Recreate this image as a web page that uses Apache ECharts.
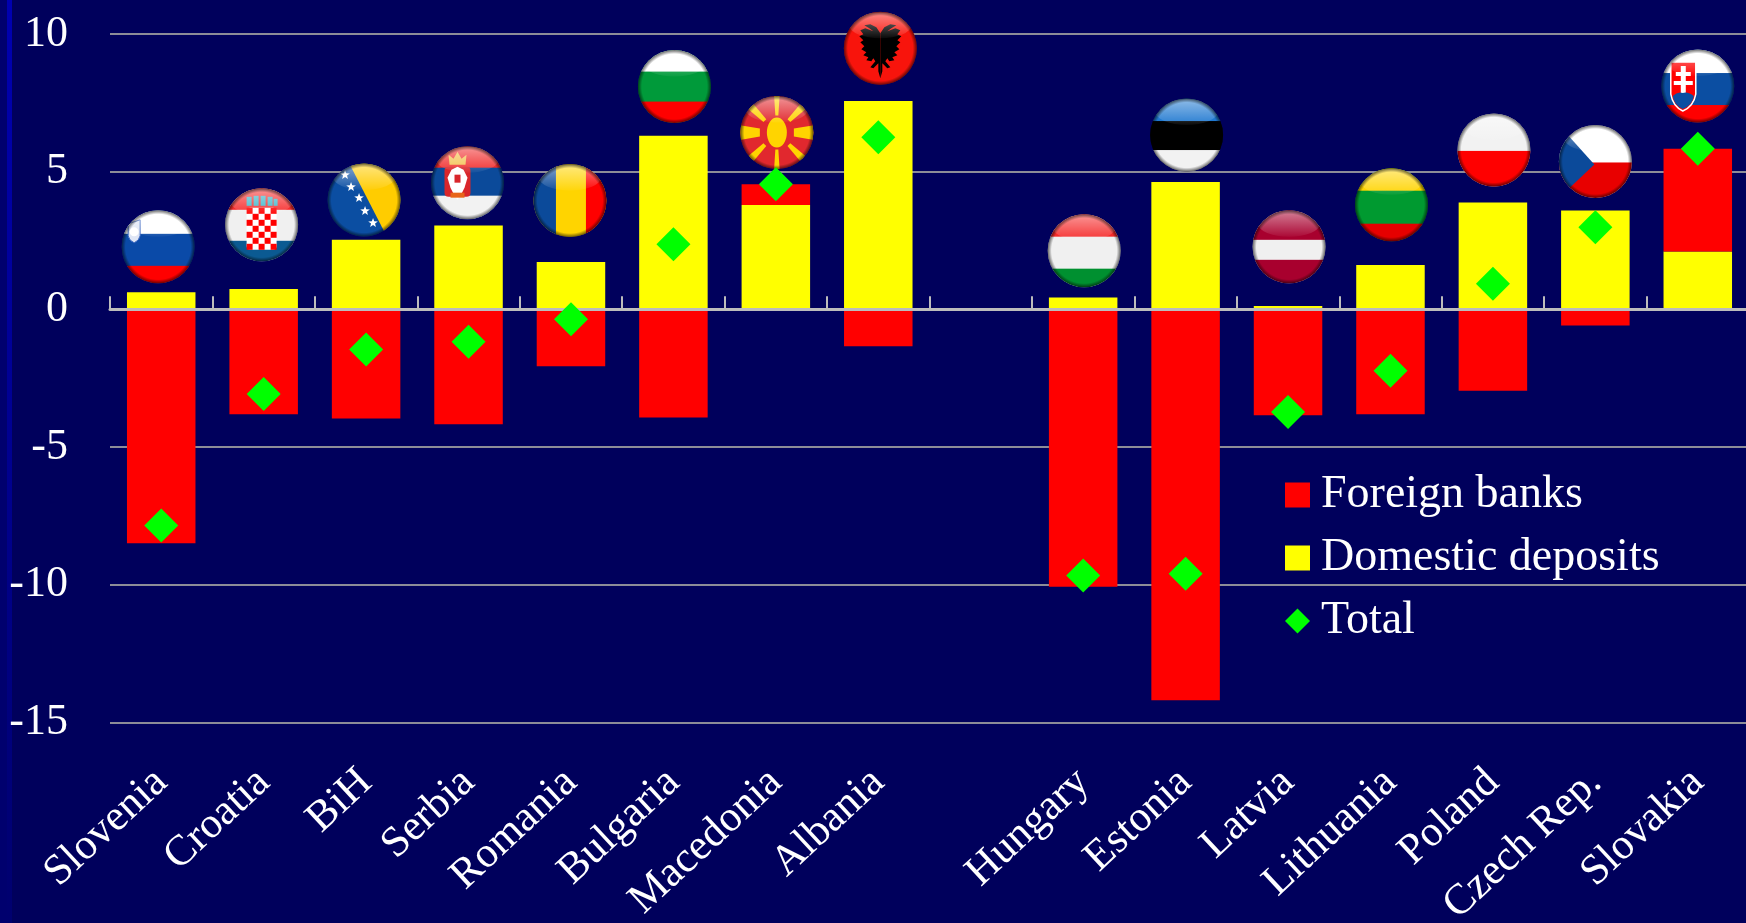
<!DOCTYPE html>
<html>
<head>
<meta charset="utf-8">
<style>html,body{margin:0;padding:0;background:#00005c;overflow:hidden;width:1746px;height:923px}#c{width:1752px;height:923px}</style>
<script src="https://cdn.jsdelivr.net/npm/echarts@6/dist/echarts.min.js"></script>
</head>
<body>
<div id="c"></div>
<script>
const categories = ['Slovenia','Croatia','BiH','Serbia','Romania','Bulgaria','Macedonia','Albania','','Hungary','Estonia','Latvia','Lithuania','Poland','Czech Rep.','Slovakia'];
const foreignBanks = [-8.5,-3.81,-3.97,-4.17,-2.07,-3.93,0.75,-1.34,null,-10.08,-14.2,-3.85,-3.81,-2.96,-0.59,3.73];
const domesticDeposits = [0.62,0.74,2.53,3.04,1.72,6.3,3.79,7.57,null,0.43,4.62,0.12,1.61,3.88,3.59,2.1];
const total = [-7.85,-3.08,-1.46,-1.18,-0.36,2.36,4.54,6.25,null,-9.67,-9.6,-3.73,-2.23,0.93,2.98,5.83];
const yTicks = {min:-15,max:10,interval:5};
const flagX = [0.47,1.48,2.48,3.49,4.49,5.51,6.51,7.52,9.51,10.51,11.51,12.51,13.51,14.5,15.5];
const flagY = [2.27,3.07,3.97,4.6,3.95,8.09,6.42,9.48,2.13,6.33,2.27,3.8,5.79,5.37,8.11];
const flagNames = ['Slovenia','Croatia','BiH','Serbia','Romania','Bulgaria','Macedonia','Albania','Hungary','Estonia','Latvia','Lithuania','Poland','Czech Rep.','Slovakia'];

function hs(c1,c2,c3,a,b){a=a||22;b=b||52;
  return `<rect width="74" height="74" fill="${c2}"/><rect width="74" height="${a}" fill="${c1}"/><rect y="${b}" width="74" height="${74-b}" fill="${c3}"/>`;}
function star(x,y,r){let p=[];for(let i=0;i<10;i++){const R=i%2?r*0.42:r,t=-Math.PI/2+i*Math.PI/5;p.push((x+R*Math.cos(t)).toFixed(1)+','+(y+R*Math.sin(t)).toFixed(1));}
  return `<polygon fill="#fff" points="${p.join(' ')}"/>`;}
function checks(){let s='<rect x="22" y="20" width="30" height="42" rx="4" fill="#fff"/>';
  for(let r=0;r<7;r++)for(let c=0;c<5;c++)if((r+c)%2===0)s+=`<rect x="${22+c*6}" y="${20+r*6}" width="6" height="6" fill="#f00"/>`;
  return s;}
const eagleHalf='M37 22 L33 16 L27 13 L21 14 L26 17 L30 20 L22 17 L17 19 L20 23 L16 25 L20 29 L17 31 L21 35 L18 38 L23 41 L20 44 L25 46 L23 49 L28 50 L30 47 L32 50 L27 56 L30 57 L35 52 L35 60 L37 67 Z';
function rays(){let s='';const hw=[3,4,8,4,3,4,8,4];for(let i=0;i<8;i++){const w=hw[i];s+=`<polygon fill="#ffd400" transform="rotate(${i*45} 37 37)" points="${37-w*0.5},20 ${37+w*0.5},20 ${37+w},-4 ${37-w},-4"/>`;}return s;}
const flagArt = {
  'Slovenia': hs('#fff','#0a4aa8','#f00',24,56)+'<path d="M7 14 L19 10 L19 26 Q18 31 13 33 Q8 31 7 26Z" fill="#dfe6f5" stroke="#3a66c0"/><circle cx="13" cy="22" r="4.5" fill="#fff"/>',
  'Croatia': hs('#f52a2a','#f0f0f0','#0b5a92',22,53)+checks()+'<g fill="#39b5c9"><rect x="22" y="9" width="5" height="9"/><rect x="29" y="8" width="5" height="10"/><rect x="36" y="8" width="5" height="10"/><rect x="43" y="9" width="5" height="9"/><rect x="49" y="11" width="4" height="7"/></g>',
  'BiH': '<rect width="74" height="74" fill="#0b4ea2"/><polygon fill="#ffcc00" points="22,0 74,0 74,74 60,74"/>'+star(18,12,5)+star(24,24,5)+star(32,35,5)+star(38,48,5)+star(46,60,5),
  'Serbia': hs('#f02b2b','#0b4a9a','#f2f2f2',22,50)+'<rect x="14" y="21" width="26" height="30" rx="4" fill="#d9262b"/><path d="M27 21 L21 24 L17 32 L20 42 L24 50 L27 54 L30 50 L34 42 L37 32 L33 24Z" fill="#fff"/><rect x="24" y="29" width="6" height="8" fill="#d9262b"/><rect x="20" y="47" width="14" height="5" fill="#e8651a"/><path d="M19 19 L18 9 L23 13 L27 6 L31 13 L36 9 L35 19Z" fill="#f2c14e"/>',
  'Romania': '<rect width="74" height="74" fill="#ffd400"/><rect width="23" height="74" fill="#0b4a9a"/><rect x="53" width="21" height="74" fill="#f00"/>',
  'Bulgaria': hs('#fff','#009a3a','#f00',22,52),
  'Macedonia': '<rect width="74" height="74" fill="#e1282e"/>'+rays()+'<ellipse cx="37" cy="37" rx="10" ry="15" fill="#ffd400"/>',
  'Albania': `<rect width="74" height="74" fill="#f8140c"/><path d="${eagleHalf}" fill="#000"/><path d="${eagleHalf}" fill="#000" transform="translate(74,0) scale(-1,1)"/>`,
  'Hungary': hs('#f52a2a','#f0f0f0','#009030',23,55),
  'Estonia': hs('#1f78d0','#000','#f2f2f2',23,52),
  'Latvia': hs('#a8002e','#f0f0f0','#a8002e',30,50),
  'Lithuania': hs('#ffd400','#009a30','#e60000',23,56),
  'Poland': '<rect width="74" height="74" fill="#f2f2f2"/><rect y="38" width="74" height="36" fill="#f00"/>',
  'Czech Rep.': '<rect width="74" height="74" fill="#fff"/><rect y="38" width="74" height="36" fill="#e80000"/><polygon fill="#0b4a9a" points="0,0 36,40 0,74 0,0"/>',
  'Slovakia': hs('#fff','#0b4ea2','#f00',24,56)+'<path d="M10 13 L35 13 L35 45 Q33 57 22 62 Q12 57 10 45Z" fill="#f00" stroke="#fff" stroke-width="1.5"/><path d="M20 17 H25 V23 H30 V27 H25 V32 H32 V36 H25 V44 H20 V36 H13 V32 H20 V27 H15 V23 H20Z" fill="#fff"/><path d="M12 47 Q17 42 22 44 Q27 42 33 47 Q32 56 22 60 Q13 56 12 47Z" fill="#0b4ea2"/>'
};
function flagUri(name){
  const svg=`<svg xmlns="http://www.w3.org/2000/svg" width="74" height="74" viewBox="0 0 74 74"><defs><clipPath id="k"><circle cx="37" cy="37" r="36.5"/></clipPath><linearGradient id="g" x1="0" y1="0" x2="0" y2="1"><stop offset="0" stop-color="#fff" stop-opacity=".5"/><stop offset="1" stop-color="#fff" stop-opacity=".04"/></linearGradient><radialGradient id="e" cx=".5" cy=".5" r=".5"><stop offset=".88" stop-color="#000" stop-opacity="0"/><stop offset="1" stop-color="#000" stop-opacity=".65"/></radialGradient></defs><g clip-path="url(#k)">${flagArt[name]}<ellipse cx="37" cy="14" rx="31" ry="13" fill="url(#g)"/><circle cx="37" cy="37" r="37" fill="url(#e)"/></g></svg>`;
  return 'image://data:image/svg+xml;charset=utf-8,'+encodeURIComponent(svg);
}
const serif='"Liberation Serif", serif';
const chart=echarts.init(document.getElementById('c'));
chart.setOption({
  animation:false,
  backgroundColor:'#00005c',
  graphic:[
    {type:'rect',silent:true,z:-1,shape:{x:0,y:0,width:7,height:923},style:{fill:'#00006e'}},
    {type:'rect',silent:true,z:-1,shape:{x:7,y:0,width:5,height:923},style:{fill:new echarts.graphic.LinearGradient(0,0,0,1,[{offset:0,color:'#0000b0'},{offset:1,color:'#00006e'}])}}
  ],
  grid:{left:110,top:34,width:1639,height:688.3,outerBoundsMode:'none'},
  legend:{
    data:[{name:'Foreign banks',icon:'rect'},{name:'Domestic deposits',icon:'rect'},{name:'Total',icon:'diamond'}],
    orient:'vertical',left:1285,top:472,itemWidth:25,itemHeight:25,itemGap:17,padding:0,
    textStyle:{color:'#fff',fontFamily:serif,fontSize:46,padding:[0,0,0,6]},selectedMode:false
  },
  xAxis:[
    {type:'category',data:categories,position:'bottom',z:6,
      axisLine:{onZero:true,lineStyle:{color:'#bcbcbc',width:3}},
      axisTick:{show:true,inside:true,length:13,alignWithLabel:false,interval:0,lineStyle:{color:'#bcbcbc',width:2}},
      axisLabel:{show:false},splitLine:{show:false}},
    {type:'category',data:categories,position:'bottom',offset:0,
      axisLine:{show:false,onZero:false},axisTick:{show:false},splitLine:{show:false},
      axisLabel:{show:true,interval:0,rotate:43,margin:54,color:'#fff',fontFamily:serif,fontSize:43}},
    {type:'value',min:0,max:16,show:false,axisLine:{onZero:false},splitLine:{show:false}}
  ],
  yAxis:{type:'value',min:yTicks.min,max:yTicks.max,interval:yTicks.interval,
    axisLine:{show:false},axisTick:{show:false},
    axisLabel:{color:'#fff',fontFamily:serif,fontSize:44,margin:42},
    splitLine:{show:true,lineStyle:{color:'#8c8c98',width:2}}},
  series:[
    {name:'Domestic deposits',type:'bar',stack:'s',xAxisIndex:0,barWidth:68.5,data:domesticDeposits,itemStyle:{color:'#ffff00'},z:2},
    {name:'Foreign banks',type:'bar',stack:'s',xAxisIndex:0,barWidth:68.5,data:foreignBanks,itemStyle:{color:'#ff0000'},z:2},
    {name:'Flags',type:'scatter',xAxisIndex:2,symbolSize:74,z:3,silent:true,itemStyle:{opacity:1},
      data:flagY.map((y,i)=>({name:flagNames[i],value:[flagX[i],y],symbol:flagUri(flagNames[i])}))},
    {name:'Total',type:'scatter',xAxisIndex:0,symbol:'diamond',symbolSize:34,data:total,itemStyle:{color:'#00ff00',opacity:1},z:7}
  ]
});
</script>
</body>
</html>
